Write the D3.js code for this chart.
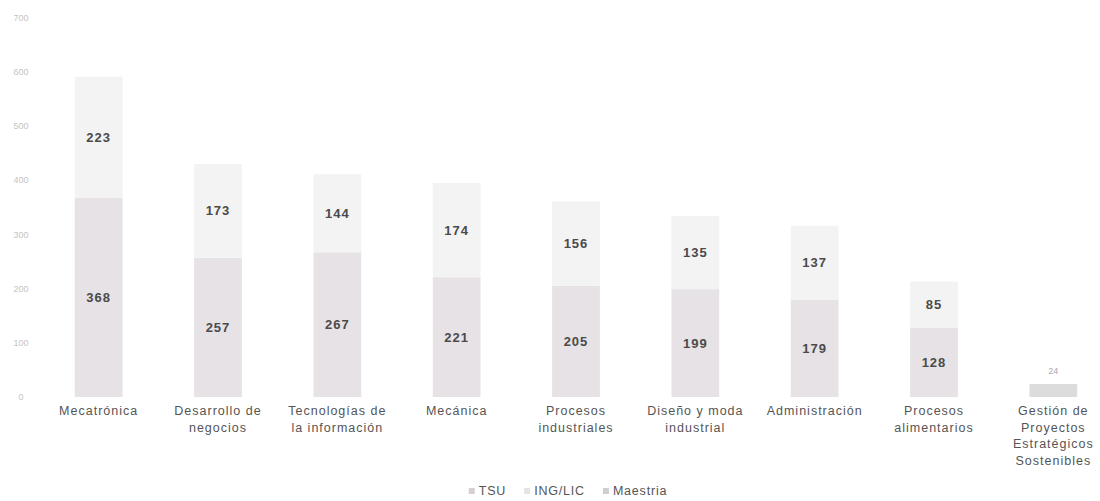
<!DOCTYPE html>
<html>
<head>
<meta charset="utf-8">
<script src="https://cdn.jsdelivr.net/npm/d3@7"></script>
<style>
	body { margin:0; background:#fff; }
	svg { display:block; font-family:"Liberation Sans", Arial, sans-serif; }
</style>
</head>
<body>
<svg id="chart" width="1100" height="501"></svg>
<script>
//chart data
var categories = ["Mecatrónica","Desarrollo de negocios","Tecnologías de la información","Mecánica","Procesos industriales","Diseño y moda industrial","Administración","Procesos alimentarios","Gestión de Proyectos Estratégicos Sostenibles"];
var categoryLines = [["Mecatrónica"],["Desarrollo de","negocios"],["Tecnologías de","la información"],["Mecánica"],["Procesos","industriales"],["Diseño y moda","industrial"],["Administración"],["Procesos","alimentarios"],["Gestión de","Proyectos","Estratégicos","Sostenibles"]];
var seriesNames = ["TSU","ING/LIC","Maestria"];
var tsu = [368,257,267,221,205,199,179,128,0];
var ingLic = [223,173,144,174,156,135,137,85,0];
var maestria = [0,0,0,0,0,0,0,0,24];
var yTicks = [0,100,200,300,400,500,600,700];

var colors = {"TSU":"#e6e2e5","ING/LIC":"#f4f3f4","Maestria":"#dcdcdc"};
var legendColors = {"TSU":"#d6d0d4","ING/LIC":"#e4e4e4","Maestria":"#cfcfcf"};

//build rows for the stack
var rows = categories.map(function(c,i) {
	return {cat:c, "TSU":tsu[i], "ING/LIC":ingLic[i], "Maestria":maestria[i]};
});
var stacked = d3.stack().keys(seriesNames)(rows);

var svg = d3.select("#chart");

var x = d3.scaleBand()
	.domain(categories)
	.range([39,1113])
	.paddingInner(0.6)
	.paddingOuter(0.3);

var y = d3.scaleLinear()
	.domain([0,700])
	.range([397,17.6]);

//y axis labels only (no line, no grid)
svg.append("g").selectAll("text")
	.data(yTicks)
	.enter().append("text")
	.attr("x",21)
	.attr("y",function(d) { return y(d); })
	.attr("dy","0.35em")
	.attr("text-anchor","middle")
	.style("font-size","9px")
	.style("fill","#c4c4c4")
	.text(function(d) { return d; });

//bars
var layers = svg.append("g").selectAll("g")
	.data(stacked)
	.enter().append("g")
	.attr("fill",function(d) { return colors[d.key]; });

layers.selectAll("rect")
	.data(function(d) { return d.filter(function(p) { return p[1] > p[0]; }); })
	.enter().append("rect")
	.attr("x",function(d) { return x(d.data.cat); })
	.attr("y",function(d) { return y(d[1]); })
	.attr("width",x.bandwidth())
	.attr("height",function(d) { return y(d[0]) - y(d[1]); });

//value labels
stacked.forEach(function(layer) {
	layer.forEach(function(p) {
		var v = p[1] - p[0];
		if (v <= 0) return;
		var cx = x(p.data.cat) + x.bandwidth()/2;
		if (layer.key == "Maestria") {
			//small label above the bar
			svg.append("text")
				.attr("x",cx)
				.attr("y",y(p[1]) - 10)
				.attr("text-anchor","middle")
				.style("font-size","9px")
				.style("fill","#aaa")
				.text(v);
		} else {
			svg.append("text")
				.attr("x",cx)
				.attr("y",(y(p[0]) + y(p[1]))/2)
				.attr("dy","0.35em")
				.attr("text-anchor","middle")
				.style("font-size","13px")
				.style("font-weight","bold")
				.style("letter-spacing","1px")
				.style("fill","#4a4a4a")
				.text(v);
		}
	});
});

//category labels
var catG = svg.append("g");
categories.forEach(function(c,i) {
	var t = catG.append("text")
		.attr("x",x(c) + x.bandwidth()/2)
		.attr("y",415)
		.attr("text-anchor","middle")
		.style("font-size","12.5px")
		.style("letter-spacing","1px")
		.style("fill","#555");
	categoryLines[i].forEach(function(line,j) {
		t.append("tspan")
			.attr("x",x(c) + x.bandwidth()/2)
			.attr("dy",j == 0 ? 0 : 16.5)
			.text(line);
	});
});

//legend
var legend = svg.append("g");
var lx = 0;
seriesNames.forEach(function(name) {
	var item = legend.append("g").attr("transform","translate(" + lx + ",0)");
	item.append("rect")
		.attr("x",0).attr("y",-3)
		.attr("width",6).attr("height",6)
		.attr("fill",legendColors[name]);
	var txt = item.append("text")
		.attr("x",10)
		.attr("dy","0.35em")
		.style("font-size","12.5px")
		.style("letter-spacing","0.8px")
		.style("fill","#555")
		.text(name);
	lx += 10 + txt.node().getComputedTextLength() + 18;
});
var lw = lx - 18;
legend.attr("transform","translate(" + (568 - lw/2) + ",491)");
</script>
</body>
</html>
